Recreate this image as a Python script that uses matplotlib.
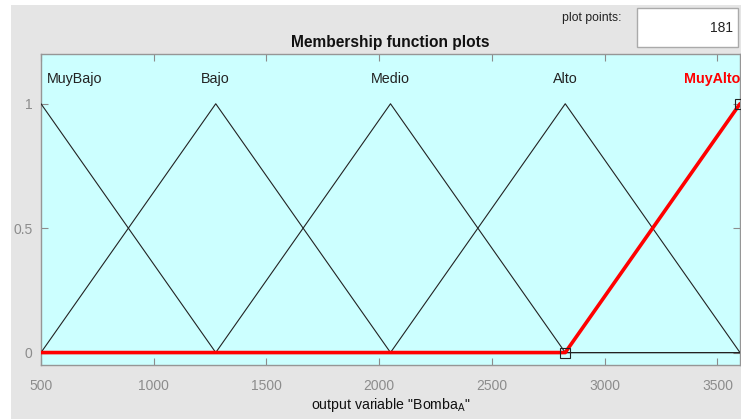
import matplotlib
matplotlib.use("Agg")
import matplotlib.pyplot as plt
from matplotlib.patches import Rectangle

plt.rcParams['font.family'] = ['Liberation Sans', 'DejaVu Sans']
plt.rcParams['mathtext.fontset'] = 'custom'
plt.rcParams['mathtext.rm'] = 'Liberation Sans'
plt.rcParams['mathtext.it'] = 'Liberation Sans'

# Output variable "Bomba_A": triangular membership functions [a, b, c]
mf_names = ["MuyBajo", "Bajo", "Medio", "Alto", "MuyAlto"]
mf_params = [
    [-275, 500, 1275],
    [500, 1275, 2050],
    [1275, 2050, 2825],
    [2050, 2825, 3600],
    [2825, 3600, 4375],
]
x_range = [500, 3600]
selected = "MuyAlto"
plot_points = 181
x_ticks = [500, 1000, 1500, 2000, 2500, 3000, 3500]
y_ticks = [0, 0.5, 1]
y_tick_labels = ["0", "0.5", "1"]

W, H = 741, 419
fig = plt.figure(figsize=(W / 100, H / 100), dpi=100)
fig.patch.set_facecolor('white')
fig.add_artist(Rectangle((11 / W, 0), 1 - 11 / W, (H - 5) / H,
                         transform=fig.transFigure, facecolor='#e5e5e5',
                         edgecolor='none', zorder=0))

ax = fig.add_axes([41 / W, (H - 365) / H, (740 - 41) / W, (365 - 54) / H])
ax.set_facecolor('#ccffff')

xmin, xmax = x_range
for name, (a, b, c) in zip(mf_names, mf_params):
    xs = [min(a, xmin), a, b, c, max(c, xmax)]
    ys = [0, 0, 1, 0, 0]
    if name == selected:
        ax.plot(xs, ys, color='#ff0000', lw=2.6, zorder=4, solid_capstyle='butt')
        ax.plot([a, b, c], [0, 1, 0], ls='none', marker='s', ms=6.5,
                mfc='none', mec='#222222', mew=0.8, zorder=5)
    else:
        ax.plot(xs, ys, color='#222222', lw=0.8, zorder=3)

# Membership function labels above each peak, kept inside the axes
for i, (name, (a, b, c)) in enumerate(zip(mf_names, mf_params)):
    if i == 0:
        x, ha = xmin + 25, 'left'
    elif i == len(mf_names) - 1:
        x, ha = xmax, 'right'
    else:
        x, ha = b, 'center'
    sel = name == selected
    ax.text(x, 1.1, name, ha=ha, va='center', fontsize=10.3,
            color='#ff0000' if sel else '#222222',
            fontweight='bold' if sel else 'normal', zorder=6)

ax.set_xlim(xmin, xmax)
ax.set_ylim(-0.05, 1.2)
ax.set_xticks(x_ticks)
ax.set_xticklabels([str(t) for t in x_ticks])
ax.set_yticks(y_ticks)
ax.set_yticklabels(y_tick_labels)
ax.tick_params(direction='in', top=True, right=True, length=5, width=0.8,
               colors='#8c8c8c', labelsize=10, pad=6)
ax.tick_params(axis='x', pad=10)
for s in ax.spines.values():
    s.set_color('#969696')
    s.set_linewidth(1.0)

ax.set_title("Membership function plots", fontsize=11.2, fontweight='bold',
             color='#111111', pad=5)
ax.set_xlabel('output variable "Bomba$_{\\mathrm{A}}$"', fontsize=10.2,
              color='#111111', labelpad=2)

# Plot points field
fig.text(622 / W, 1 - 18 / H, "plot points:", ha='right', va='center',
         fontsize=8.8, color='#222222')
fig.add_artist(Rectangle((637 / W, 1 - 47 / H), (738 - 637) / W, (47 - 8) / H,
                         transform=fig.transFigure, facecolor='white',
                         edgecolor='#aaaaaa', lw=1.0, zorder=2))
fig.text(733 / W, 1 - 28 / H, str(plot_points), ha='right', va='center',
         fontsize=10, color='#222222', zorder=3)

fig.savefig("out.png", dpi=100, facecolor=fig.get_facecolor())
